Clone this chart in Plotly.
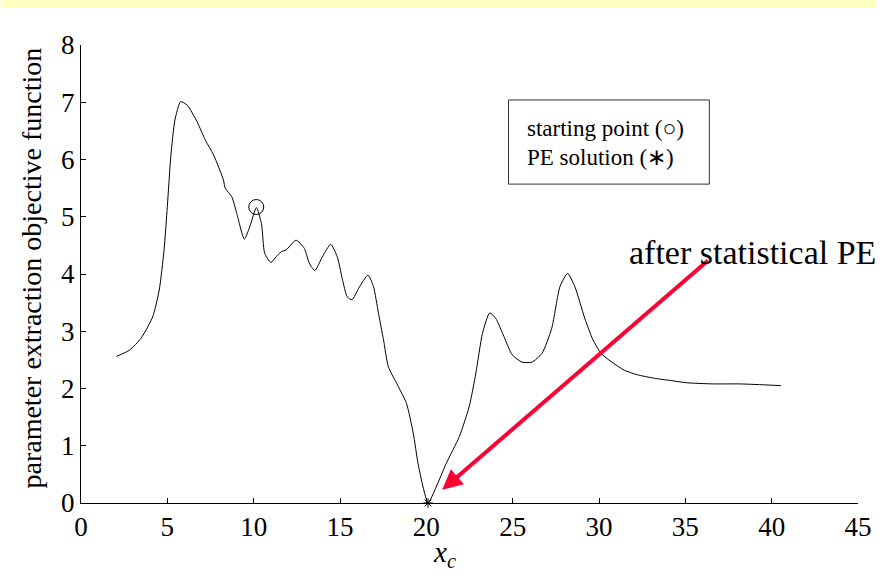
import plotly.graph_objects as go

# objective function curve
xc = [2.05, 2.81, 3.48, 4.15, 4.53, 4.81, 5.0, 5.2, 5.44, 5.77, 6.15, 6.72, 7.2, 7.68,
      8.25, 8.35, 8.73, 9.02, 9.46, 9.78, 10.16, 10.45, 10.64, 11.0, 11.3, 11.6, 11.88,
      12.45, 12.93, 13.22, 13.54, 13.98, 14.46, 14.84, 15.13, 15.42, 15.7, 16.08, 16.62,
      16.94, 17.23, 17.52, 17.8, 18.28, 18.85, 19.24, 19.52, 19.81, 20.1, 20.57, 21.15,
      21.91, 22.48, 22.87, 23.25, 23.67, 24.01, 24.49, 24.97, 25.54, 26.11, 26.69, 27.26,
      27.74, 28.18, 28.6, 29.17, 29.65, 30.13, 30.7, 31.46, 32.22, 33.18, 34.14, 35.09,
      36.62, 38.15, 39.86, 40.53]
obj = [2.56, 2.67, 2.88, 3.25, 3.72, 4.42, 5.18, 6.05, 6.69, 7.01, 6.95, 6.66, 6.34, 6.08,
       5.64, 5.5, 5.35, 5.06, 4.61, 4.83, 5.16, 4.88, 4.36, 4.2, 4.3, 4.39, 4.42,
       4.59, 4.45, 4.19, 4.06, 4.3, 4.52, 4.3, 3.92, 3.6, 3.55, 3.75, 3.98,
       3.78, 3.31, 2.85, 2.38, 2.09, 1.74, 1.22, 0.69, 0.28, 0.0, 0.28, 0.69,
       1.16, 1.68, 2.27, 2.96, 3.32, 3.23, 2.91, 2.59, 2.46, 2.46, 2.61, 3.05,
       3.78, 4.01, 3.78, 3.23, 2.85, 2.61, 2.47, 2.32, 2.24, 2.18, 2.14, 2.10,
       2.08, 2.08, 2.06, 2.05]

start_x = [10.15]
start_y = [5.17]
sol_x = [20.1]
sol_y = [0.0]

x_ticks = [0, 5, 10, 15, 20, 25, 30, 35, 40, 45]
y_ticks = [0, 1, 2, 3, 4, 5, 6, 7, 8]

arrow_tail = (36.4, 4.26)
arrow_tip = (20.92, 0.23)

legend_box = (24.76, 5.57, 36.39, 7.04)
legend_lines = ["starting point (○)", "PE solution (∗)"]
legend_y = [6.55, 6.04]

FONT = "Liberation Serif"

fig = go.Figure()
fig.add_trace(go.Scatter(x=xc, y=obj, mode="lines",
                         line=dict(color="black", width=1, shape="spline", smoothing=0.6),
                         showlegend=False))
fig.add_trace(go.Scatter(x=start_x, y=start_y, mode="markers",
                         marker=dict(symbol="circle-open", size=15, color="black",
                                     line=dict(color="black", width=1)),
                         showlegend=False))
fig.add_trace(go.Scatter(x=sol_x, y=sol_y, mode="markers", cliponaxis=False,
                         marker=dict(symbol="asterisk-open", size=8, color="black",
                                     line=dict(color="black", width=1)),
                         showlegend=False))

fig.update_layout(
    width=884, height=575,
    margin=dict(l=81, r=18, t=45, b=72),
    paper_bgcolor="white", plot_bgcolor="white",
    font=dict(family=FONT, color="black", size=27),
    xaxis=dict(range=[0, 45], tickvals=x_ticks, ticks="inside", ticklen=5,
               tickcolor="black", showline=True, linecolor="black", linewidth=1,
               showgrid=False, zeroline=False, tickfont=dict(size=27, family=FONT)),
    yaxis=dict(range=[0, 8], tickvals=y_ticks, ticks="inside", ticklen=5,
               tickcolor="black", showline=True, linecolor="black", linewidth=1,
               showgrid=False, zeroline=False, tickfont=dict(size=27, family=FONT)),
    shapes=[
        dict(type="rect", xref="paper", yref="paper",
             x0=-81/785, x1=(884-81)/785, y0=1+37/458, y1=1+45/458,
             fillcolor="#FFFFC0", line=dict(width=0), layer="below"),
        dict(type="rect", xref="x", yref="y",
             x0=legend_box[0], y0=legend_box[1], x1=legend_box[2], y1=legend_box[3],
             line=dict(color="#333333", width=1), fillcolor="rgba(0,0,0,0)"),
    ],
)

ann = []
for txt, yy in zip(legend_lines, legend_y):
    ann.append(dict(x=25.73, y=yy, xref="x", yref="y", text=txt, showarrow=False,
                    xanchor="left", yanchor="middle", font=dict(size=23, family=FONT)))
ann.append(dict(x=arrow_tip[0], y=arrow_tip[1], ax=arrow_tail[0], ay=arrow_tail[1],
                xref="x", yref="y", axref="x", ayref="y", text="", showarrow=True,
                arrowhead=2, arrowsize=1.0, arrowwidth=4, arrowcolor="#FF0033"))
ann.append(dict(x=31.63, y=4.37, xref="x", yref="y", text="after statistical PE",
                showarrow=False, xanchor="left", yanchor="middle",
                font=dict(size=34, family=FONT)))
ann.append(dict(x=(30-81)/785, y=(503-268)/458, xref="paper", yref="paper",
                text="parameter extraction objective function", textangle=-90,
                showarrow=False, xanchor="center", yanchor="middle",
                font=dict(size=28, family=FONT)))
ann.append(dict(x=(448-81)/785, y=(503-574)/458, xref="paper", yref="paper",
                text="<i>x</i><sub><i>c</i></sub>", showarrow=False,
                xanchor="center", yanchor="bottom", font=dict(size=29, family=FONT)))
fig.update_layout(annotations=ann)

fig.write_html("out.html")
